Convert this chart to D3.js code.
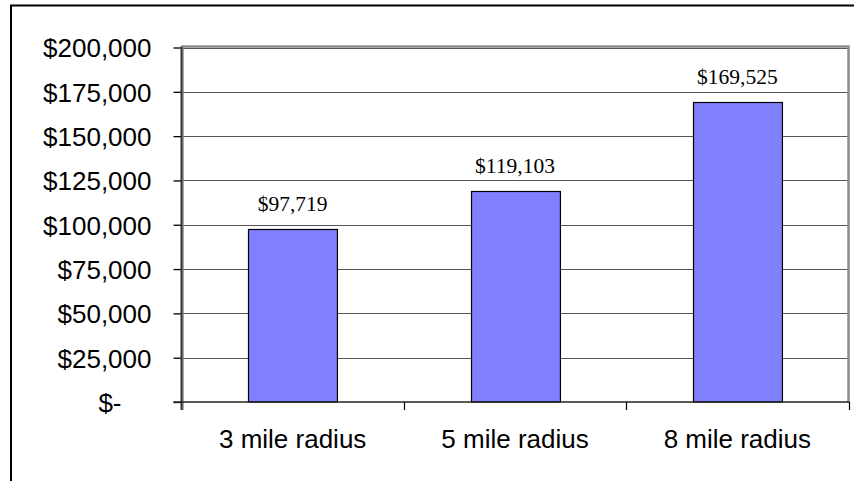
<!DOCTYPE html>
<html>
<head>
<meta charset="utf-8">
<script src="https://cdn.jsdelivr.net/npm/d3@7"></script>
<style>
  html, body { margin: 0; padding: 0; background: #fff; }
  svg { display: block; }
</style>
</head>
<body>
<svg id="chart" width="854" height="481"></svg>
<script>
// Average household income by trade-area radius
const categories = ["3 mile radius", "5 mile radius", "8 mile radius"];
const values = [97719, 119103, 169525];
const tickValues = [0, 25000, 50000, 75000, 100000, 125000, 150000, 175000, 200000];
const tickLabels = ["$-", "$25,000", "$50,000", "$75,000", "$100,000", "$125,000", "$150,000", "$175,000", "$200,000"];

const svg = d3.select("#chart");
const plot = { left: 181.5, right: 848.5, top: 47.5, bottom: 402 };

// Outer chart frame (top and left edges visible)
svg.append("path")
  .attr("d", `M11,481 L11,5.5 L854,5.5`)
  .attr("fill", "none")
  .attr("stroke", "#000")
  .attr("stroke-width", 2);

const x = d3.scaleBand()
  .domain(categories)
  .range([plot.left, plot.right])
  .paddingInner(0.6)
  .paddingOuter(0.3);

const xBand = d3.scaleBand().domain(categories).range([plot.left, plot.right]);

const y = d3.scaleLinear().domain([0, 200000]).range([plot.bottom, plot.top]);

// Horizontal gridlines
svg.append("g")
  .selectAll("line")
  .data(tickValues.slice(1))
  .join("line")
  .attr("x1", plot.left)
  .attr("x2", plot.right)
  .attr("y1", d => Math.round(y(d)) + 0.5)
  .attr("y2", d => Math.round(y(d)) + 0.5)
  .attr("stroke", "#555")
  .attr("stroke-width", 1);

// Plot area border (top and right)
svg.append("path")
  .attr("d", `M${plot.left},${plot.top - 1} L${plot.right},${plot.top - 1} L${plot.right},${plot.bottom}`)
  .attr("fill", "none")
  .attr("stroke", "#8c8c8c")
  .attr("stroke-width", 2.5);

// Bars
svg.append("g")
  .selectAll("rect")
  .data(values)
  .join("rect")
  .attr("x", (d, i) => Math.round(x(categories[i])) + 0.5)
  .attr("y", d => Math.round(y(d)) + 0.5)
  .attr("width", x.bandwidth())
  .attr("height", d => plot.bottom - Math.round(y(d)) - 0.5)
  .attr("fill", "#8080ff")
  .attr("stroke", "#000")
  .attr("stroke-width", 1.2);

// Value labels
svg.append("g")
  .selectAll("text")
  .data(values)
  .join("text")
  .attr("x", (d, i) => x(categories[i]) + x.bandwidth() / 2)
  .attr("y", d => y(d) - 18)
  .attr("text-anchor", "middle")
  .attr("font-family", "'Liberation Serif', 'Times New Roman', serif")
  .attr("font-size", 21.5)
  .attr("fill", "#000")
  .text(d => "$" + d3.format(",")(d));

// Y axis
const yAxis = d3.axisLeft(y)
  .tickValues(tickValues)
  .tickSize(8)
  .tickPadding(22)
  .tickFormat((d, i) => tickLabels[i]);

const gy = svg.append("g")
  .attr("transform", `translate(${plot.left},0)`)
  .call(yAxis);
gy.select(".domain").remove();
gy.selectAll(".tick line").attr("stroke", "#000").attr("stroke-width", 1.3);
gy.selectAll(".tick text")
  .attr("font-family", "'Liberation Sans', Arial, sans-serif")
  .attr("font-size", 26)
  .attr("fill", "#000")
  .attr("dy", "0.36em")
  .attr("dx", d => d === 0 ? -30 : 0);

// Left axis line, extends past baseline
svg.append("line")
  .attr("x1", plot.left + 1.5).attr("x2", plot.left + 1.5)
  .attr("y1", plot.top - 1).attr("y2", plot.bottom + 8)
  .attr("stroke", "#888").attr("stroke-width", 1.5);
svg.append("line")
  .attr("x1", plot.left).attr("x2", plot.left)
  .attr("y1", plot.top - 1).attr("y2", plot.bottom + 8)
  .attr("stroke", "#333").attr("stroke-width", 2);

// X axis baseline and category boundary ticks
const xAxis = d3.axisBottom(xBand).tickSize(0).tickPadding(28);
const gx = svg.append("g")
  .attr("transform", `translate(0,${plot.bottom})`)
  .call(xAxis);
gx.select(".domain").remove();
gx.selectAll(".tick text")
  .attr("font-family", "'Liberation Sans', Arial, sans-serif")
  .attr("font-size", 26)
  .attr("fill", "#000");

svg.append("line")
  .attr("x1", plot.left - 8).attr("x2", plot.right + 1)
  .attr("y1", plot.bottom).attr("y2", plot.bottom)
  .attr("stroke", "#222").attr("stroke-width", 1.5);

svg.append("g")
  .selectAll("line")
  .data(categories.slice(1).concat(["end"]))
  .join("line")
  .attr("x1", (d, i) => Math.round(plot.left + xBand.bandwidth() * (i + 1)) + 0.5)
  .attr("x2", (d, i) => Math.round(plot.left + xBand.bandwidth() * (i + 1)) + 0.5)
  .attr("y1", plot.bottom)
  .attr("y2", plot.bottom + 8)
  .attr("stroke", "#000")
  .attr("stroke-width", 1.2);
</script>
</body>
</html>
